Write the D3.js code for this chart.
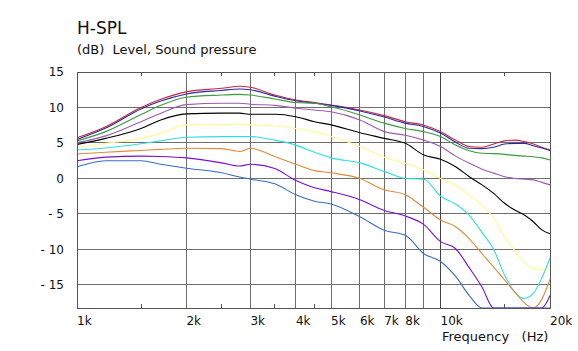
<!DOCTYPE html>
<html>
<head>
<meta charset="utf-8">
<script src="https://cdn.jsdelivr.net/npm/d3@7"></script>
<style>
  body { margin: 0; background: #fff; }
  svg { display: block; font-family: "DejaVu Sans", Verdana, sans-serif; }
</style>
</head>
<body>
<svg></svg>
<script>
// frequencies (Hz) the curves were read at
const freqs = [1000, 1200, 1500, 1700, 2000, 2500, 2800, 3000, 3500, 4000, 4500, 5000, 6000, 7000,
  8000, 9000, 10000, 11000, 12000, 13000, 14000, 15000, 16000, 17000, 18000, 19000, 20000]

// sound pressure level (dB), one array per curve, top to bottom
const red = [5.75, 7.3, 10.0, 11.15, 12.2, 12.7, 13.0, 12.85, 11.75, 11.05, 10.7, 10.35, 9.65, 8.85,
  8.0, 7.5, 6.6, 5.4, 4.5, 4.4, 4.85, 5.3, 5.4, 5.2, 4.85, 4.4, 4.0]
const navy = [5.5, 7.1, 9.8, 10.9, 11.9, 12.4, 12.6, 12.5, 11.6, 10.95, 10.6, 10.3, 9.5, 8.65,
  7.8, 7.3, 6.4, 5.1, 4.25, 4.2, 4.4, 4.85, 4.95, 4.95, 4.6, 4.3, 3.95]
const green = [5.3, 6.6, 9.0, 10.3, 11.45, 11.75, 11.85, 11.75, 11.2, 10.7, 10.6, 10.1, 8.95, 7.8,
  7.05, 6.6, 5.9, 4.7, 3.9, 3.55, 3.5, 3.4, 3.25, 3.15, 3.05, 2.9, 2.6]
const violet = [5.05, 6.0, 8.0, 9.2, 10.4, 10.6, 10.6, 10.45, 10.3, 9.9, 9.65, 9.4, 8.25, 6.6,
  6.1, 5.4, 4.5, 3.15, 2.15, 1.3, 0.75, 0.25, 0.0, -0.1, -0.2, -0.55, -0.9]
const black = [4.8, 5.65, 7.05, 8.25, 9.1, 9.2, 9.2, 9.05, 9.05, 8.7, 8.0, 7.55, 6.45, 5.65,
  4.95, 3.3, 2.7, 1.65, 0.25, -0.9, -2.1, -3.5, -4.45, -5.15, -6.1, -7.25, -7.8]
const yellow = [4.4, 4.95, 5.65, 6.35, 7.55, 7.6, 7.65, 7.55, 7.4, 7.05, 6.6, 5.9, 4.5, 3.0,
  2.15, 1.2, 0.0, -1.0, -2.4, -3.8, -5.6, -8.2, -10.2, -11.8, -12.7, -12.9, -12.8]
const cyan = [4.0, 4.3, 4.9, 5.3, 5.8, 5.9, 5.9, 5.9, 5.4, 4.7, 3.7, 2.9, 2.2, 1.0,
  0.0, -0.1, -2.5, -3.6, -5.2, -7.6, -10.0, -13.6, -16.0, -16.9, -16.2, -14.0, -11.2]
const orange = [3.45, 3.7, 3.95, 4.1, 4.25, 4.2, 3.8, 4.25, 3.1, 2.0, 1.1, 0.8, 0.0, -1.6,
  -2.3, -4.1, -5.85, -6.8, -8.5, -10.6, -12.5, -14.3, -16.0, -17.5, -19.0, -17.0, -14.2]
const purple = [2.5, 3.0, 3.15, 3.1, 2.9, 2.2, 1.75, 2.0, 1.4, -0.3, -1.3, -1.85, -3.0, -4.5,
  -5.3, -6.5, -8.9, -9.9, -12.6, -15.3, -19.0, -21.0, -21.0, -21.0, -21.0, -19.5, -16.5]
const blue = [1.65, 2.5, 2.5, 2.0, 1.45, 0.8, 0.2, -0.1, -0.75, -2.3, -3.2, -3.6, -5.4, -7.3,
  -8.0, -10.6, -11.7, -13.8, -16.5, -19.5, -22.0, -22.0, -22.0, -22.0, -22.0, -22.0, -21.0]

const curves = [red, navy, green, violet, black, yellow, cyan, orange, purple, blue]
const colours = ['#c8283c', '#2a2aa0', '#3f993f', '#9a5cb0', '#000000',
  '#fbfb94', '#30dede', '#e08a3a', '#7a10cc', '#3a6cc0']

// axis ticks
const xLabelTicks = [1000, 2000, 3000, 4000, 5000, 6000, 7000, 8000, 10000, 20000]
const xLabels = ['1k', '2k', '3k', '4k', '5k', '6k', '7k', '8k', '10k', '20k']
const xGridTicks = [2000, 3000, 4000, 5000, 6000, 7000, 8000, 9000, 10000]
const xMinorTicks = [1500, 2500, 3500, 4500, 15000]
const yTicks = [-15, -10, -5, 0, 5, 10, 15]

const width = 578
const height = 351
const margin = { top: 72, right: 28, bottom: 43, left: 77 }

const svg = d3.select('svg')
  .attr('width', width)
  .attr('height', height)

const x = d3.scaleLog()
  .domain([1000, 20000])
  .range([margin.left, width - margin.right])

const y = d3.scaleLinear()
  .domain([-18.25, 15])
  .range([height - margin.bottom, margin.top])
  .clamp(true)

// titles
svg.append('text')
  .attr('x', 77).attr('y', 34)
  .style('font-size', '17px')
  .attr('fill', '#111')
  .text('H-SPL')

svg.append('text')
  .attr('x', 77).attr('y', 54)
  .style('font-size', '13px')
  .attr('fill', '#111')
  .attr('xml:space', 'preserve')
  .text('(dB)  Level, Sound pressure')

// horizontal grid
svg.append('g')
  .selectAll('line')
  .data(yTicks)
  .join('line')
  .attr('x1', margin.left).attr('x2', width - margin.right)
  .attr('y1', d => y(d)).attr('y2', d => y(d))
  .attr('stroke', '#6e6e6e')
  .attr('stroke-width', 1)
  .attr('shape-rendering', 'crispEdges')

// vertical grid
svg.append('g')
  .selectAll('line')
  .data(xGridTicks)
  .join('line')
  .attr('x1', d => x(d)).attr('x2', d => x(d))
  .attr('y1', margin.top).attr('y2', height - margin.bottom)
  .attr('stroke', d => d === 10000 ? '#444' : '#6e6e6e')
  .attr('stroke-width', 1)
  .attr('shape-rendering', 'crispEdges')

// minor ticks along top and bottom edges
const minor = svg.append('g')
minor.selectAll('line.b')
  .data(xMinorTicks)
  .join('line')
  .attr('class', 'b')
  .attr('x1', d => x(d)).attr('x2', d => x(d))
  .attr('y1', height - margin.bottom).attr('y2', height - margin.bottom - 4)
  .attr('stroke', '#555')
  .attr('shape-rendering', 'crispEdges')
minor.selectAll('line.t')
  .data(xMinorTicks)
  .join('line')
  .attr('class', 't')
  .attr('x1', d => x(d)).attr('x2', d => x(d))
  .attr('y1', margin.top).attr('y2', margin.top + 4)
  .attr('stroke', '#555')
  .attr('shape-rendering', 'crispEdges')

// curves
const line = d3.line()
  .x((d, i) => x(freqs[i]))
  .y(d => y(d))
  .curve(d3.curveMonotoneX)

svg.append('g')
  .selectAll('path')
  .data(curves)
  .join('path')
  .attr('d', line)
  .attr('fill', 'none')
  .attr('stroke', (d, i) => colours[i])
  .attr('stroke-width', 1.1)

// frame
svg.append('rect')
  .attr('x', margin.left).attr('y', margin.top)
  .attr('width', width - margin.left - margin.right)
  .attr('height', height - margin.top - margin.bottom)
  .attr('fill', 'none')
  .attr('stroke', '#555')
  .attr('shape-rendering', 'crispEdges')

// y labels
svg.append('g')
  .selectAll('text')
  .data(yTicks)
  .join('text')
  .attr('x', 64)
  .attr('y', d => y(d))
  .attr('dy', '0.36em')
  .attr('text-anchor', 'end')
  .style('font-size', '12px')
  .attr('fill', '#111')
  .text(d => d < 0 ? '- ' + Math.abs(d) : d)

// x labels, left aligned on their tick
svg.append('g')
  .selectAll('text')
  .data(xLabelTicks)
  .join('text')
  .attr('x', d => x(d))
  .attr('y', 325)
  .style('font-size', '12px')
  .attr('fill', '#111')
  .text((d, i) => xLabels[i])

svg.append('text')
  .attr('x', 442).attr('y', 341)
  .style('font-size', '13px')
  .attr('fill', '#111')
  .attr('xml:space', 'preserve')
  .text('Frequency   (Hz)')
</script>
</body>
</html>
